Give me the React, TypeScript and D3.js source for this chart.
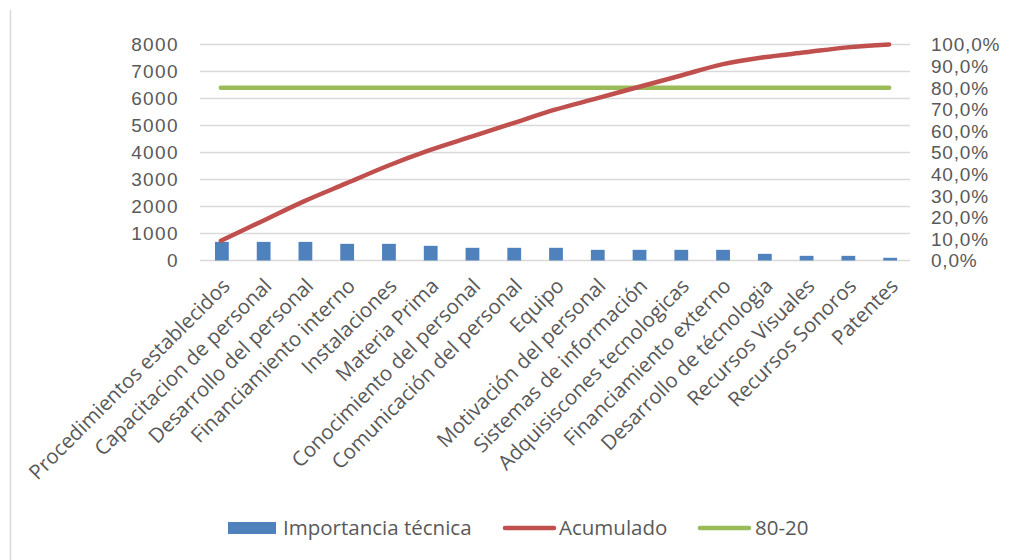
import React from "react";
import * as d3 from "d3";

const categories = [
  "Procedimientos establecidos",
  "Capacitacion de personal",
  "Desarrollo del personal",
  "Financiamiento interno",
  "Instalaciones",
  "Materia Prima",
  "Conocimiento del personal",
  "Comunicación del personal",
  "Equipo",
  "Motivación del personal",
  "Sistemas de información",
  "Adquisiscones tecnologicas",
  "Financiamiento externo",
  "Desarrollo de técnologia",
  "Recursos Visuales",
  "Recursos Sonoros",
  "Patentes",
];

const importancia = [690, 690, 690, 617, 617, 543, 470, 470, 470, 395, 395, 395, 395, 247, 173, 173, 100];

const leftTicks = [0, 1000, 2000, 3000, 4000, 5000, 6000, 7000, 8000];
const rightTicks = [0, 0.1, 0.2, 0.3, 0.4, 0.5, 0.6, 0.7, 0.8, 0.9, 1.0];
const paretoLine = 0.8;

const legendItems = [
  { label: "Importancia técnica", kind: "rect", color: "#4f81bd" },
  { label: "Acumulado", kind: "line", color: "#c0504d" },
  { label: "80-20", kind: "line", color: "#9bbb59" },
];

const W = 1015;
const H = 560;
const plot = { left: 200, right: 910, top: 44.5, bottom: 260.5 };
const FONT = "'Open Sans', 'Liberation Sans', sans-serif";
const AXIS_FONT = "'Liberation Sans', Arial, sans-serif";
const TEXT = "#595959";

export default function App() {
  const total = d3.sum(importancia);
  let run = 0;
  const acumulado = importancia.map((v) => {
    run += v;
    return run / total;
  });

  const x = d3.scaleBand<string>().domain(categories).range([plot.left, plot.right]).paddingInner(0).paddingOuter(0);
  const yL = d3.scaleLinear().domain([0, 8000]).range([plot.bottom, plot.top]);
  const yR = d3.scaleLinear().domain([0, 1]).range([plot.bottom, plot.top]);
  const cx = (c: string) => (x(c) as number) + x.bandwidth() / 2;
  const barW = x.bandwidth() * 0.33;

  const lineAcum = d3
    .line<number>()
    .x((_, i) => cx(categories[i]))
    .y((d) => yR(d))
    .curve(d3.curveCatmullRom.alpha(0.5));

  const pctFmt = (v: number) => (v * 100).toFixed(1).replace(".", ",") + "%";

  const legendPos = [
    { mark: 228, text: 283 },
    { mark: 503, text: 559 },
    { mark: 698, text: 755 },
  ];

  return (
    <svg
      width={W}
      height={H}
      style={{ position: "absolute", left: 0, top: 0, display: "block", background: "#fff" }}
      fontFamily={FONT}
    >
      {/* left frame edge */}
      <line x1={10.5} x2={10.5} y1={10} y2={H} stroke="#d9d9d9" strokeWidth={1.5} />

      {/* gridlines */}
      {leftTicks.map((t) => (
        <line key={t} x1={plot.left} x2={plot.right} y1={yL(t)} y2={yL(t)} stroke="#d9d9d9" strokeWidth={1.5} />
      ))}

      {/* left axis labels */}
      {leftTicks.map((t) => (
        <text
          key={t}
          x={179}
          y={yL(t)}
          dy="0.36em"
          textAnchor="end"
          fontFamily={AXIS_FONT}
          fontSize={19}
          letterSpacing={1.4}
          fill={TEXT}
        >
          {t}
        </text>
      ))}

      {/* right axis labels */}
      {rightTicks.map((t) => (
        <text
          key={t}
          x={931}
          y={yR(t)}
          dy="0.36em"
          textAnchor="start"
          fontFamily={AXIS_FONT}
          fontSize={19}
          letterSpacing={0.8}
          fill={TEXT}
        >
          {pctFmt(t)}
        </text>
      ))}

      {/* bars */}
      {importancia.map((v, i) => (
        <rect
          key={categories[i]}
          x={cx(categories[i]) - barW / 2 + 1}
          y={yL(v)}
          width={barW}
          height={yL(0) - yL(v)}
          fill="#4f81bd"
        />
      ))}

      {/* 80-20 reference */}
      <line
        x1={cx(categories[0])}
        x2={cx(categories[categories.length - 1])}
        y1={yR(paretoLine)}
        y2={yR(paretoLine)}
        stroke="#9bbb59"
        strokeWidth={4.5}
        strokeLinecap="round"
      />

      {/* cumulative line */}
      <path d={lineAcum(acumulado) || ""} fill="none" stroke="#c0504d" strokeWidth={4.5} strokeLinecap="round" />

      {/* category labels */}
      {categories.map((c) => (
        <text
          key={c}
          transform={`translate(${cx(c) + 5},${282}) rotate(-45)`}
          textAnchor="end"
          dy="0.36em"
          fontSize={20.5}
          fill={TEXT}
        >
          {c}
        </text>
      ))}

      {/* legend */}
      {legendItems.map((it, i) => (
        <g key={it.label} transform={`translate(0,528)`}>
          {it.kind === "rect" ? (
            <rect x={legendPos[i].mark} y={-6} width={48} height={12} fill={it.color} />
          ) : (
            <line
              x1={legendPos[i].mark + 2}
              x2={legendPos[i].mark + 51}
              y1={0}
              y2={0}
              stroke={it.color}
              strokeWidth={4.5}
              strokeLinecap="round"
            />
          )}
          <text x={legendPos[i].text} y={0} dy="0.36em" fontSize={20.5} fill={TEXT}>
            {it.label}
          </text>
        </g>
      ))}
    </svg>
  );
}
